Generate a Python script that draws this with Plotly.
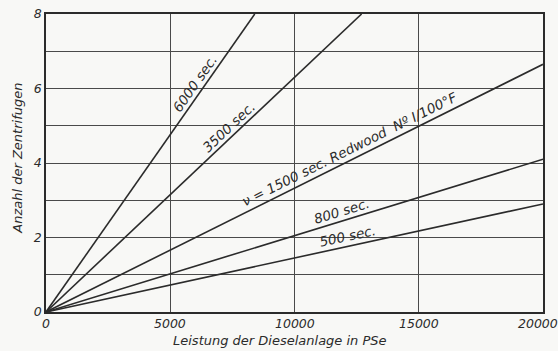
import math
import plotly.graph_objects as go

# ---- data ----
series_names = ["6000 sec.", "3500 sec.", "1500 sec.", "800 sec.", "500 sec."]
x_end = [8400, 12700, 20000, 20000, 20000]
y_end = [8.0, 8.0, 6.65, 4.1, 2.9]
label_texts = ["6000 sec.", "3500 sec.", "\u03bd = 1500 sec. Redwood  N\u00ba I/100\u00b0F", "800 sec.", "500 sec."]
label_x = [6300, 7600, 12400, 12000, 12200]
label_off = [9, 9, 11, 10, 10]

x_ticks = [0, 5000, 10000, 15000, 20000]
x_ticktext = ["0", "5000", "10000", "15000", "20000"]
y_grid = [0, 1, 2, 3, 4, 5, 6, 7, 8]
y_ticktext = ["0", "", "2", "", "4", "", "6", "", "8"]

W, H = 558, 351
ML, MR, MT, MB = 46, 15, 14, 39
XR = [0, 20000]
YR = [0, 8]
px_x = (W - ML - MR) / (XR[1] - XR[0])
px_y = (H - MT - MB) / (YR[1] - YR[0])

ink = "#2b2b2b"
bg = "#f8f8f6"
font_base = dict(family="DejaVu Sans", color=ink, style="italic")

fig = go.Figure()
for n, xe, ye in zip(series_names, x_end, y_end):
    fig.add_trace(go.Scatter(x=[0, xe], y=[0, ye], mode="lines", name=n,
                             line=dict(color=ink, width=1.6), showlegend=False,
                             hoverinfo="skip"))

annotations = []
for txt, xe, ye, lx, d in zip(label_texts, x_end, y_end, label_x, label_off):
    slope = ye / xe
    ly = slope * lx
    theta = math.atan2(ye * px_y, xe * px_x)
    annotations.append(dict(
        x=lx, y=ly, xref="x", yref="y", text=txt, showarrow=False,
        textangle=-math.degrees(theta),
        xshift=-d * math.sin(theta), yshift=d * math.cos(theta),
        font=dict(size=13.5, **font_base),
        xanchor="center", yanchor="middle"))

# x tick labels (last one pulled inward so it stays inside the page)
for i, (tv, tt) in enumerate(zip(x_ticks, x_ticktext)):
    annotations.append(dict(x=tv, y=0, xref="x", yref="paper", text=tt,
                            showarrow=False, yanchor="top", xanchor="center",
                            yshift=-2, xshift=(-5 if i == len(x_ticks) - 1 else 0),
                            font=dict(size=12.5, **font_base)))

annotations.append(dict(x=0.47, y=-0.094, xref="paper", yref="paper",
                        text="Leistung der Dieselanlage in PSe", showarrow=False,
                        yanchor="middle", font=dict(size=13, **font_base)))
annotations.append(dict(x=-0.058, y=0.515, xref="paper", yref="paper",
                        text="Anzahl der Zentrifugen", showarrow=False,
                        textangle=-90, xanchor="center", yanchor="middle",
                        font=dict(size=13, **font_base)))

fig.update_layout(
    width=W, height=H,
    margin=dict(l=ML, r=MR, t=MT, b=MB, autoexpand=False),
    paper_bgcolor=bg, plot_bgcolor=bg,
    annotations=annotations,
    xaxis=dict(range=XR, tickvals=x_ticks, showticklabels=False, showgrid=True,
               gridcolor="#4a4a4a", automargin=False,
               gridwidth=1, zeroline=False, showline=True, linecolor=ink,
               linewidth=1.5, mirror=True, ticks=""),
    yaxis=dict(range=YR, tickvals=y_grid, ticktext=y_ticktext, showgrid=True,
               gridcolor="#4a4a4a", gridwidth=1, zeroline=False, showline=True,
               automargin=False,
               linecolor=ink, linewidth=1.5, mirror=True, ticks="",
               tickfont=dict(size=12.5, **font_base)),
)

fig.write_html("out.html", config={"displayModeBar": False},
               post_script="document.body.style.margin='0';document.body.style.background='" + bg + "';")
